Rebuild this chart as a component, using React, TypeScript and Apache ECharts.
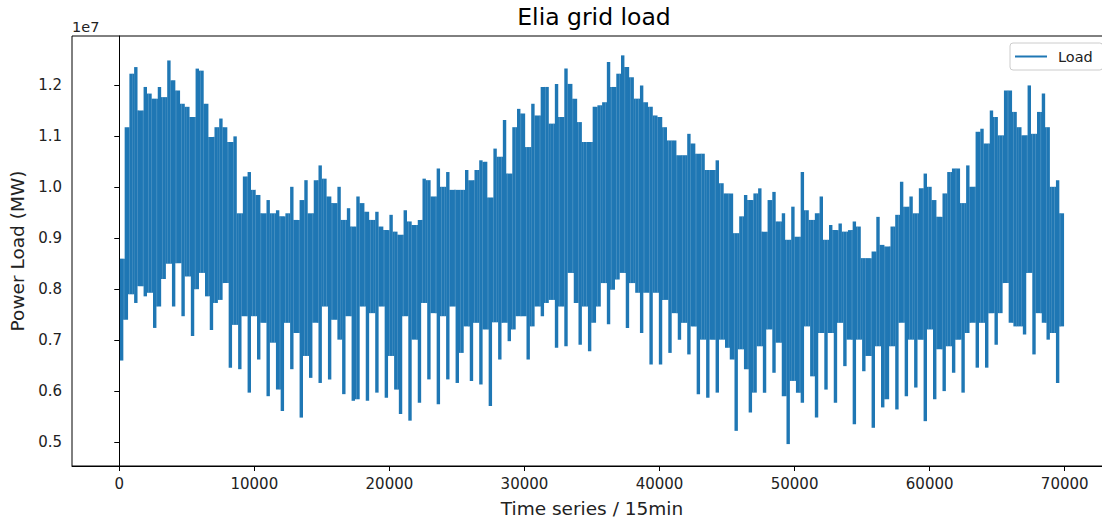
import React, { useEffect, useRef } from "react";
import * as echarts from "echarts";

// Sampling step (in 15-min samples) between successive envelope readings
const STEP = 350;
const SCALE = 1e7;
const X_TICKS = [0, 10000, 20000, 30000, 40000, 50000, 60000, 70000];
const Y_TICKS = [0.5, 0.6, 0.7, 0.8, 0.9, 1.0, 1.1, 1.2];

// Upper envelope (peaks) per 350-sample bin, in units of 1e7 MW
const LOAD_HIGH = [
  0.86, 1.118, 1.223, 1.236, 1.151, 1.197, 1.184, 1.174, 1.197, 1.177,
  1.249, 1.21, 1.19, 1.164, 1.158, 1.138, 1.233, 1.229, 1.164, 1.099,
  1.118, 1.135, 1.118, 1.089, 1.1, 0.949, 1.021, 1.03, 0.995, 0.985,
  0.949, 0.975, 0.949, 0.955, 0.943, 0.949, 1.001, 0.936, 0.975, 1.014,
  0.949, 1.014, 1.043, 1.017, 0.982, 0.969, 1.001, 0.936, 0.959, 0.923,
  0.982, 0.969, 0.952, 0.936, 0.952, 0.923, 0.916, 0.946, 0.913, 0.907,
  0.955, 0.933, 0.926, 0.936, 1.017, 1.014, 0.982, 1.037, 1.001, 1.03,
  0.995, 0.995, 0.995, 1.034, 1.014, 1.034, 1.053, 1.05, 0.98, 1.076,
  1.06, 1.132, 1.027, 1.118, 1.154, 1.145, 1.079, 1.164, 1.141, 1.197,
  1.197, 1.125, 1.203, 1.138, 1.233, 1.203, 1.174, 1.128, 1.089, 1.089,
  1.158, 1.161, 1.167, 1.246, 1.197, 1.223, 1.259, 1.236, 1.216, 1.174,
  1.2, 1.167, 1.158, 1.141, 1.138, 1.118, 1.092, 1.092, 1.063, 1.063,
  1.105, 1.086, 1.066, 1.066, 1.034, 1.034, 1.053, 1.008, 0.988, 0.988,
  0.91, 0.943, 0.985, 0.975, 0.988, 0.998, 0.913, 0.975, 0.991, 0.933,
  0.949, 0.897, 0.962, 0.903, 1.03, 0.955, 0.936, 0.949, 0.982, 0.897,
  0.926, 0.916, 0.929, 0.913, 0.916, 0.933, 0.923, 0.861, 0.861, 0.874,
  0.942, 0.887, 0.884, 0.923, 0.946, 1.011, 0.962, 0.982, 0.949, 0.998,
  1.027, 1.001, 0.975, 0.942, 0.988, 1.03, 1.037, 1.037, 0.969, 1.043,
  1.001, 1.109, 1.115, 1.086, 1.151, 1.138, 1.102, 1.19, 1.19, 1.148,
  1.118, 1.102, 1.2, 1.105, 1.148, 1.184, 1.118, 1.001, 1.014, 0.949,
];

// Lower envelope (night / weekend troughs) per bin, in units of 1e7 MW
const LOAD_LOW = [
  0.66, 0.74, 0.79, 0.773, 0.806, 0.786, 0.793, 0.724, 0.766, 0.82,
  0.85, 0.766, 0.851, 0.747, 0.825, 0.708, 0.8, 0.832, 0.786, 0.72,
  0.773, 0.779, 0.812, 0.646, 0.73, 0.643, 0.747, 0.597, 0.747, 0.662,
  0.734, 0.59, 0.695, 0.603, 0.561, 0.734, 0.643, 0.714, 0.548, 0.669,
  0.626, 0.734, 0.616, 0.766, 0.623, 0.74, 0.701, 0.594, 0.747, 0.581,
  0.584, 0.766, 0.581, 0.753, 0.597, 0.766, 0.587, 0.669, 0.603, 0.555,
  0.747, 0.542, 0.701, 0.577, 0.773, 0.623, 0.753, 0.574, 0.747, 0.623,
  0.766, 0.616, 0.675, 0.727, 0.62, 0.734, 0.613, 0.721, 0.571, 0.735,
  0.662, 0.734, 0.698, 0.721, 0.747, 0.747, 0.662, 0.727, 0.766, 0.747,
  0.773, 0.779, 0.685, 0.766, 0.688, 0.832, 0.773, 0.691, 0.766, 0.678,
  0.734, 0.766, 0.812, 0.731, 0.799, 0.819, 0.832, 0.724, 0.812, 0.793,
  0.714, 0.793, 0.652, 0.793, 0.652, 0.779, 0.675, 0.753, 0.701, 0.734,
  0.672, 0.727, 0.594, 0.701, 0.587, 0.701, 0.597, 0.701, 0.685, 0.662,
  0.522, 0.682, 0.643, 0.558, 0.597, 0.688, 0.597, 0.721, 0.636, 0.695,
  0.59, 0.496, 0.62, 0.597, 0.577, 0.727, 0.629, 0.548, 0.714, 0.603,
  0.714, 0.577, 0.734, 0.649, 0.701, 0.535, 0.701, 0.639, 0.669, 0.528,
  0.688, 0.568, 0.584, 0.688, 0.564, 0.734, 0.59, 0.701, 0.607, 0.701,
  0.541, 0.721, 0.584, 0.682, 0.6, 0.688, 0.636, 0.701, 0.597, 0.714,
  0.734, 0.646, 0.734, 0.646, 0.753, 0.691, 0.753, 0.812, 0.734, 0.727,
  0.727, 0.711, 0.832, 0.672, 0.753, 0.734, 0.701, 0.714, 0.616, 0.727,
];

const FONT = "DejaVu Sans";
const BLUE = "#1f77b4";

export default function App() {
  const ref = useRef<HTMLDivElement>(null);

  useEffect(() => {
    if (!ref.current) return;
    const chart = echarts.init(ref.current, null, { renderer: "svg" });

    // one item per bin: [start, end, low, high]
    const data = LOAD_HIGH.map((hi, i) => [
      i * STEP,
      (i + 1) * STEP,
      LOAD_LOW[i] * SCALE,
      hi * SCALE,
    ]);

    const renderItem = (params: any, api: any) => {
      const i = params.dataIndex;
      const x0 = api.value(0);
      const x1 = api.value(1);
      const lo = api.value(2);
      const hi = api.value(3);
      const pA = api.coord([x0, hi]);
      const pB = api.coord([x1, lo]);
      const binW = pB[0] - pA[0];
      const spikeW = binW * 0.72;
      const cx = (pA[0] + pB[0]) / 2;
      const children: any[] = [
        {
          type: "rect",
          shape: { x: cx - spikeW / 2, y: pA[1], width: spikeW, height: pB[1] - pA[1] },
          style: { fill: BLUE },
        },
      ];
      if (i + 1 < data.length) {
        const nLo = Math.max(lo, data[i + 1][2]);
        const nHi = Math.min(hi, data[i + 1][3]);
        if (nHi > nLo) {
          const top = api.coord([x1, nHi]);
          const bot = api.coord([x1, nLo]);
          children.push({
            type: "rect",
            shape: {
              x: cx + spikeW / 2 - 0.2,
              y: top[1],
              width: binW - spikeW + 0.4,
              height: bot[1] - top[1],
            },
            style: { fill: BLUE },
          });
        }
      }
      return { type: "group", children };
    };

    chart.setOption({
      animation: false,
      backgroundColor: "#ffffff",
      grid: {
        left: 72,
        top: 36,
        width: 1040,
        height: 430,
        outerBoundsMode: "none",
        containLabel: false,
        show: true,
        borderColor: "#000",
        borderWidth: 1,
        backgroundColor: "transparent",
      },
      graphic: [
        {
          type: "text",
          x: 594,
          y: 17,
          style: {
            text: "Elia grid load",
            fontFamily: FONT,
            fontSize: 23.5,
            fill: "#000",
            align: "center",
            verticalAlign: "middle",
          },
        },
        {
          type: "text",
          x: 72,
          y: 27,
          style: {
            text: "1e7",
            fontFamily: FONT,
            fontSize: 14.5,
            fill: "#222",
            align: "left",
            verticalAlign: "middle",
          },
        },
      ],
      legend: {
        data: [{ name: "Load", icon: "rect" }],
        left: 1010,
        top: 43,
        itemWidth: 32,
        itemHeight: 2,
        padding: [6, 10, 6, 5],
        borderColor: "#cccccc",
        borderWidth: 1,
        borderRadius: 3,
        backgroundColor: "#ffffff",
        textStyle: { fontFamily: FONT, fontSize: 14.5, color: "#222", padding: [0, 0, 0, 6] },
      },
      xAxis: {
        type: "value",
        min: -3500,
        max: 73500,
        name: "Time series / 15min",
        nameLocation: "middle",
        nameGap: 33,
        nameTextStyle: { fontFamily: FONT, fontSize: 18.5, color: "#222" },
        axisLine: { show: true, lineStyle: { color: "#000", width: 1 } },
        axisTick: { show: true, customValues: X_TICKS, length: 5, lineStyle: { color: "#000" } },
        axisLabel: {
          customValues: X_TICKS,
          formatter: (v: number) => String(Math.round(v)),
          fontFamily: FONT,
          fontSize: 15,
          color: "#222",
          margin: 10,
        },
        splitLine: { show: false },
      },
      yAxis: {
        type: "value",
        min: 0.453 * SCALE,
        max: 1.297 * SCALE,
        name: "Power Load (MW)",
        nameLocation: "middle",
        nameGap: 45,
        nameRotate: 90,
        nameTextStyle: { fontFamily: FONT, fontSize: 18.5, color: "#222" },
        axisLine: { show: true, lineStyle: { color: "#000", width: 1 } },
        axisTick: {
          show: true,
          customValues: Y_TICKS.map((v) => v * SCALE),
          length: 5,
          lineStyle: { color: "#000" },
        },
        axisLabel: {
          customValues: Y_TICKS.map((v) => v * SCALE),
          formatter: (v: number) => (v / SCALE).toFixed(1),
          fontFamily: FONT,
          fontSize: 15,
          color: "#222",
          margin: 10,
        },
        splitLine: { show: false },
      },
      series: [
        {
          name: "Load",
          type: "custom",
          renderItem,
          data,
          encode: { x: [0, 1], y: [2, 3] },
          itemStyle: { color: BLUE },
          clip: true,
        },
      ],
    });

    return () => chart.dispose();
  }, []);

  return (
    <div
      ref={ref}
      style={{ position: "fixed", left: 0, top: 0, width: 1102, height: 519 }}
    />
  );
}
